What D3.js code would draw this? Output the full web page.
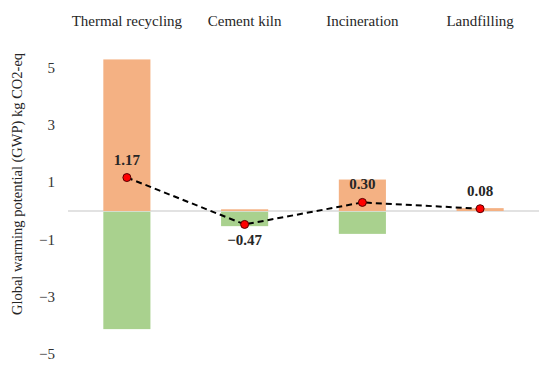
<!DOCTYPE html>
<html>
<head>
<meta charset="utf-8">
<script src="https://cdn.jsdelivr.net/npm/d3@7"></script>
<style>
  body { margin: 0; background: #fff; }
  text { font-family: "Liberation Serif", serif; }
</style>
</head>
<body>
<svg id="canvas" width="550" height="368"></svg>
<script>
// chart values
let categories = ['Thermal recycling', 'Cement kiln', 'Incineration', 'Landfilling']
let positive = [5.3, 0.06, 1.1, 0.1]
let negative = [-4.13, -0.53, -0.8, -0.02]
let net = [1.17, -0.47, 0.30, 0.08]
let tickValues = [5, 3, 1, -1, -3, -5]

let canvas = d3.select('#canvas')

let x = d3.scaleBand()
  .domain(categories)
  .range([68, 539])
  .paddingInner(0.6)
  .paddingOuter(0.3)

let y = d3.scaleLinear()
  .domain([-5, 5])
  .range([354, 68])

// zero line
canvas.append('line')
  .attr('x1', 68).attr('x2', 539)
  .attr('y1', y(0)).attr('y2', y(0))
  .attr('stroke', '#d9d9d9')
  .attr('stroke-width', 1.5)

// bars
canvas.selectAll('.pos')
  .data(categories)
  .enter()
  .append('rect')
  .attr('class', 'pos')
  .attr('x', (d) => x(d))
  .attr('width', x.bandwidth())
  .attr('y', (d, i) => y(positive[i]))
  .attr('height', (d, i) => y(0) - y(positive[i]))
  .attr('fill', '#f4b183')

canvas.selectAll('.neg')
  .data(categories)
  .enter()
  .append('rect')
  .attr('class', 'neg')
  .attr('x', (d) => x(d))
  .attr('width', x.bandwidth())
  .attr('y', y(0) + 0.75)
  .attr('height', (d, i) => y(negative[i]) - y(0) - 0.75)
  .attr('fill', '#a9d18e')

// net line
let cx = (d) => x(d) + x.bandwidth() / 2
let line = d3.line()
  .x((d) => cx(d))
  .y((d, i) => y(net[i]))

canvas.append('path')
  .datum(categories)
  .attr('d', line)
  .attr('fill', 'none')
  .attr('stroke', '#000')
  .attr('stroke-width', 2)
  .attr('stroke-dasharray', '6,4')

canvas.selectAll('.dot')
  .data(categories)
  .enter()
  .append('circle')
  .attr('class', 'dot')
  .attr('cx', (d) => cx(d))
  .attr('cy', (d, i) => y(net[i]))
  .attr('r', 4)
  .attr('fill', '#ff0000')
  .attr('stroke', '#5a0000')
  .attr('stroke-width', 1)

canvas.selectAll('.val')
  .data(categories)
  .enter()
  .append('text')
  .attr('class', 'val')
  .attr('x', (d) => cx(d))
  .attr('y', (d, i) => net[i] < 0 ? y(net[i]) + 21 : y(net[i]) - 13)
  .attr('text-anchor', 'middle')
  .attr('font-size', 15)
  .attr('font-weight', 'bold')
  .attr('fill', '#262626')
  .text((d, i) => net[i] < 0 ? '\u2212' + Math.abs(net[i]).toFixed(2) : net[i].toFixed(2))

// category labels on top
canvas.selectAll('.cat')
  .data(categories)
  .enter()
  .append('text')
  .attr('class', 'cat')
  .attr('x', (d) => cx(d))
  .attr('y', 26)
  .attr('text-anchor', 'middle')
  .attr('font-size', 15)
  .attr('fill', '#262626')
  .text((d) => d)

// y ticks
canvas.selectAll('.tick')
  .data(tickValues)
  .enter()
  .append('text')
  .attr('class', 'tick')
  .attr('x', 55)
  .attr('y', (d) => y(d) + 5)
  .attr('text-anchor', 'end')
  .attr('font-size', 15)
  .attr('fill', '#333')
  .text((d) => d < 0 ? '\u2212' + Math.abs(d) : d)

// y title
canvas.append('text')
  .attr('transform', 'translate(22,' + 184 + ') rotate(-90)')
  .attr('text-anchor', 'middle')
  .attr('font-size', 14.5)
  .attr('fill', '#262626')
  .text('Global warming potential (GWP) kg CO2-eq')
</script>
</body>
</html>
